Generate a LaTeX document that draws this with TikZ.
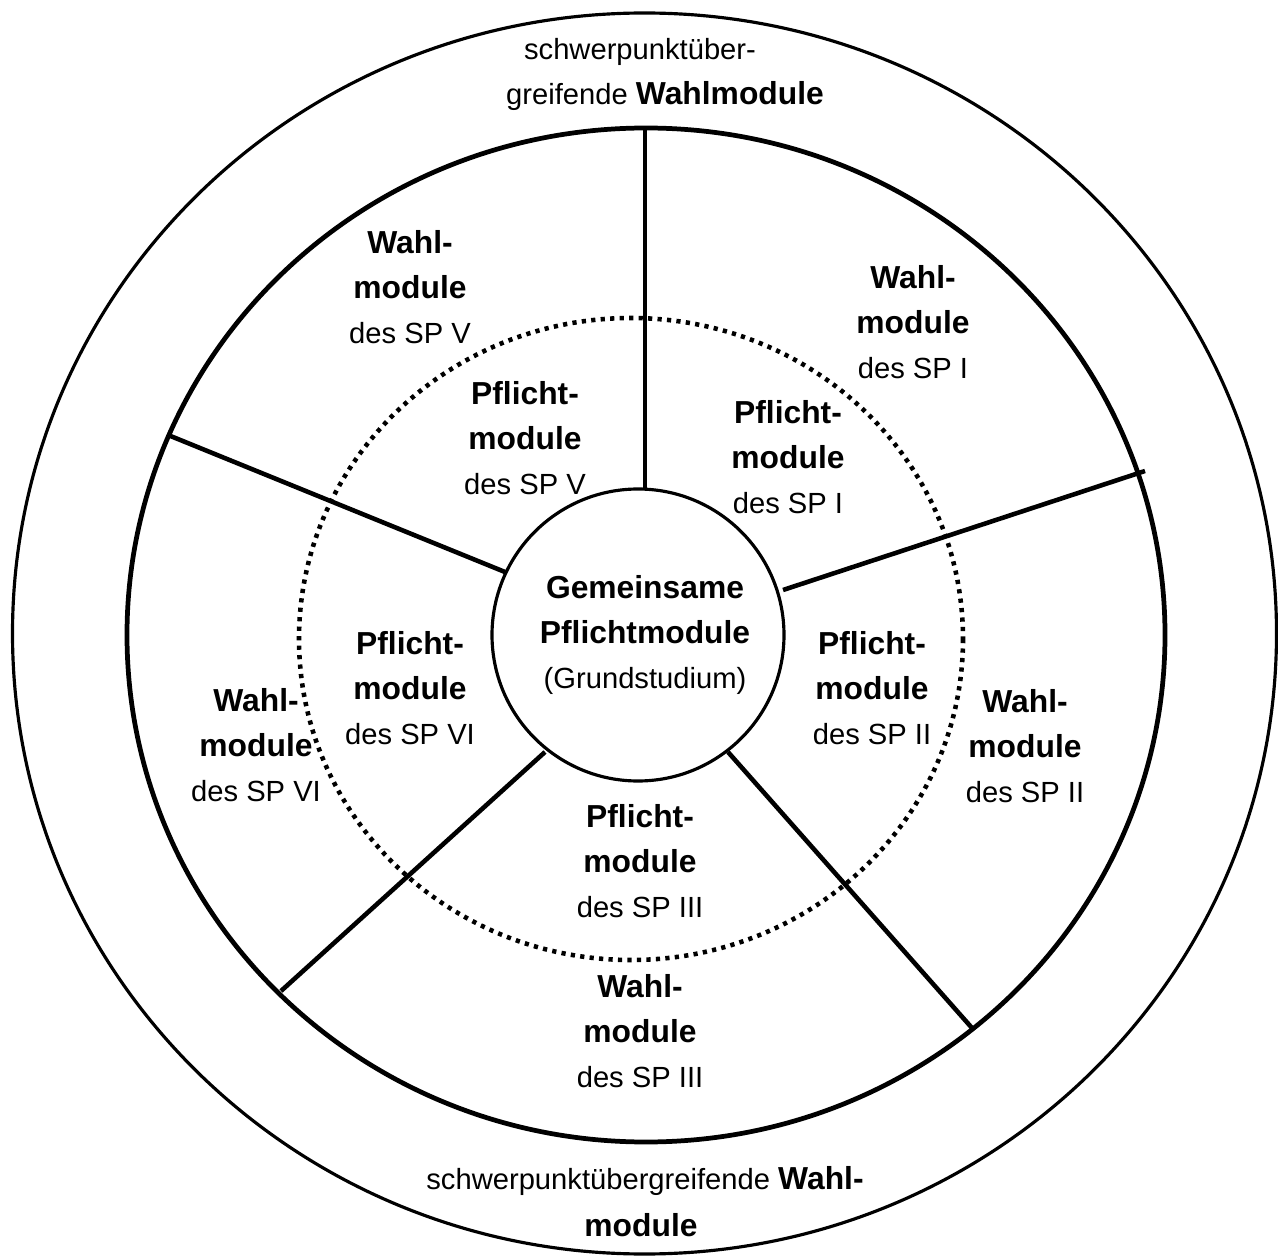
\documentclass[tikz,border=0pt]{standalone}
\usepackage{fontspec}
\setmainfont{Liberation Sans}
\newcommand\bt[1]{{\fontsize{18.1}{25.6}\selectfont\bfseries #1}}
\begin{document}
\begin{tikzpicture}[x=0.02cm,y=-0.02cm,
  lbl/.style={align=center,inner sep=0pt,font=\fontsize{16.6}{25.6}\selectfont},
  ring/.style={line width=1.8pt},
  mainring/.style={line width=2.7pt},
  spoke/.style={line width=2.6pt},
  dotring/.style={line width=2.6pt,dash pattern=on 2.4pt off 3pt}]
\useasboundingbox (0,0) rectangle (1278,1256);
% rings
\draw[ring] (644.5,633.5) ellipse [x radius=632, y radius=620.5];
\draw[mainring] (646,635) ellipse [x radius=519, y radius=507];
\draw[dotring] (631,639) ellipse [x radius=332, y radius=321];
% spoke end points
\coordinate (s1o) at (645,130);   \coordinate (s1i) at (645,508);
\coordinate (s2o) at (1145,471);  \coordinate (s2i) at (783,590);
\coordinate (s3o) at (972,1028);  \coordinate (s3i) at (728,752);
\coordinate (s4o) at (281,991);   \coordinate (s4i) at (545,752);
\coordinate (s5o) at (168,435);   \coordinate (s5i) at (505,572);
\draw[spoke] (s1o) -- (s1i);
\draw[spoke] (s2o) -- (s2i);
\draw[spoke] (s3o) -- (s3i);
\draw[spoke] (s4o) -- (s4i);
\draw[spoke] (s5o) -- (s5i);
% centre
\node[draw,circle,ring,fill=white,minimum size=292*0.02cm,inner sep=0pt] (core) at (638,635) {};
\node[lbl] (coretxt) at (645,635) {\bt{Gemeinsame}\\\bt{Pflichtmodule}\\(Grundstudium)};
% outer labels
\node[lbl] (top1) at (640,52) {schwerpunktüber-};
\node[lbl] (top2) at (665,96) {greifende \bt{Wahlmodule}};
\node[lbl] (bot1) at (645,1181) {schwerpunktübergreifende \bt{Wahl-}};
\node[lbl] (bot2) at (641,1225) {\bt{module}};
% Wahlmodule sectors
\node[lbl] (w5) at (410,287) {\bt{Wahl-}\\\bt{module}\\des SP V};
\node[lbl] (w1) at (913,322) {\bt{Wahl-}\\\bt{module}\\des SP I};
\node[lbl] (w6) at (256,745) {\bt{Wahl-}\\\bt{module}\\des SP VI};
\node[lbl] (w2) at (1025,746) {\bt{Wahl-}\\\bt{module}\\des SP II};
\node[lbl] (w3) at (640,1031) {\bt{Wahl-}\\\bt{module}\\des SP III};
% Pflichtmodule sectors
\node[lbl] (p5) at (525,438) {\bt{Pflicht-}\\\bt{module}\\des SP V};
\node[lbl] (p1) at (788,457) {\bt{Pflicht-}\\\bt{module}\\des SP I};
\node[lbl] (p6) at (410,688) {\bt{Pflicht-}\\\bt{module}\\des SP VI};
\node[lbl] (p2) at (872,688) {\bt{Pflicht-}\\\bt{module}\\des SP II};
\node[lbl] (p3) at (640,861) {\bt{Pflicht-}\\\bt{module}\\des SP III};
\end{tikzpicture}
\end{document}
